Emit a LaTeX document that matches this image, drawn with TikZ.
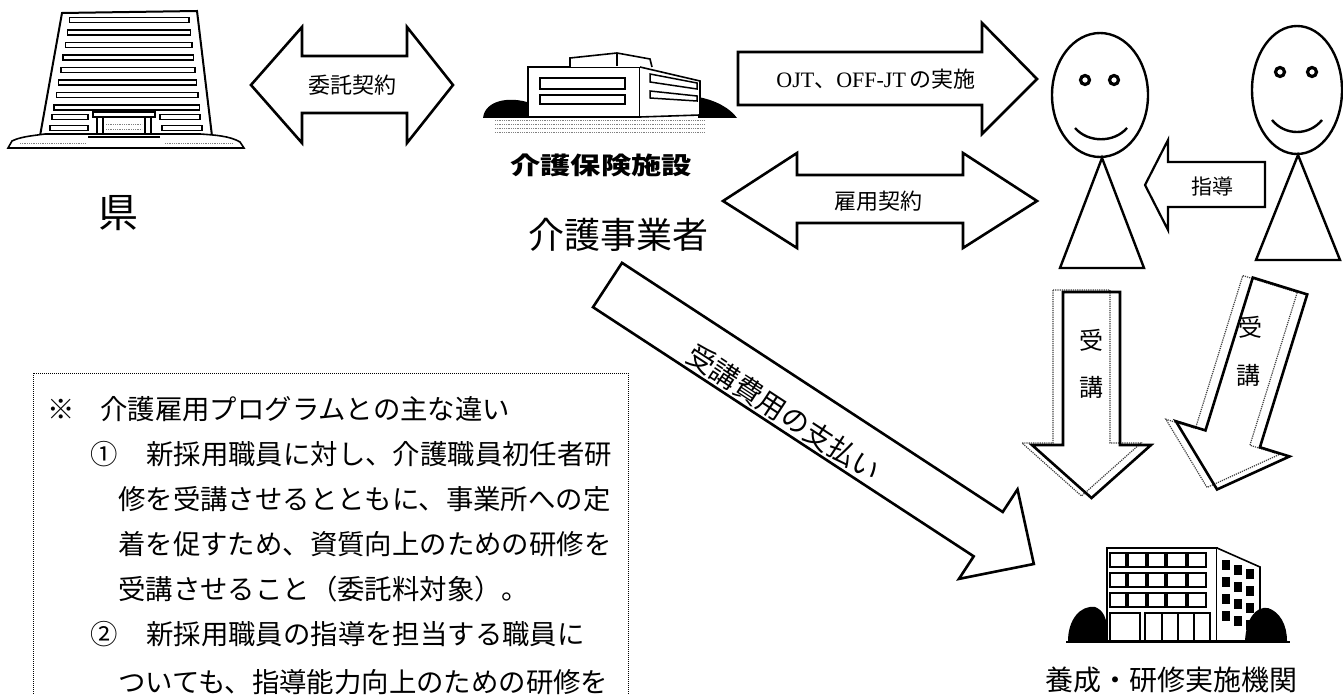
\documentclass[tikz,border=0pt]{standalone}
\usepackage{fontspec}
\newfontfamily\jp{Noto Sans CJK JP}
\newfontfamily\jpwide{Noto Sans CJK JP}[FakeStretch=1.26]
\newfontfamily\lat{Liberation Serif}
\newcommand{\fs}[1]{\fontsize{#1}{#1}\selectfont}
\begin{document}
\begin{tikzpicture}[x=1pt,y=-1pt,
  blockarrow/.style={draw=black, line width=2.6pt, line join=miter, miter limit=20, fill=white},
  rimline/.style={draw=black!75, line width=1.2pt, densely dotted, line join=miter},
  drawline/.style={draw=black, line width=1.6pt},
  face/.style={draw=black, line width=2.4pt},
  eye/.style={draw=black, line width=3.2pt},
  jtext/.style={inner sep=0pt, font=\jp\fs{22}},
  notetext/.style={inner sep=0pt, anchor=west, font=\jp\fs{27.4}},
]
\clip (0,0) rectangle (1343,695);

% ---------- prefectural office building ----------
\draw[line width=2pt, fill=white] (62,13) -- (197,11) -- (212,136) -- (40,136) -- cycle;
\foreach \y in {20,32.5,45,57.5,70,82.5,95,107.5}{
  \pgfmathsetmacro{\xl}{62-22*(\y-13)/123+9}
  \pgfmathsetmacro{\xr}{197+15*(\y-11)/125-9}
  \draw[line width=1.4pt] (\xl,\y-2.6) rectangle (\xr,\y+2.6);
}
\draw[line width=1.4pt] (52,114.5) rectangle (88,119.5);
\draw[line width=1.4pt] (50,125.5) rectangle (88,130.5);
\draw[line width=1.4pt] (160,114.5) rectangle (200,119.5);
\draw[line width=1.4pt] (162,125.5) rectangle (202,130.5);
\draw[line width=1.6pt] (93,112) rectangle (155,117);
\draw[line width=1.4pt] (97,117) rectangle (103,135);
\draw[line width=1.4pt] (145,117) rectangle (151,135);
\draw[line width=0.8pt, black!50, densely dotted] (106,124) -- (142,124) (106,129) -- (142,129);
\draw[line width=1.6pt, fill=white] (8,148) -- (12,141) .. controls (20,137) and (30,136) .. (45,134)
  -- (200,134) .. controls (215,135) and (230,136) .. (240,142) -- (244,148) -- cycle;
\draw[line width=1.4pt] (88,137) -- (160,137);
\draw[line width=0.8pt, black!50, densely dotted] (20,143) -- (85,143) (165,143) -- (232,143);

% ---------- care facility building ----------
\fill (483,118) .. controls (485,100) and (510,96) .. (530,103) -- (530,118) -- cycle;
\fill (698,118) -- (698,97) .. controls (715,100) and (730,108) .. (737,118) -- cycle;
\draw[drawline, fill=white] (528,67) rectangle (640,117);
\draw[drawline, fill=white] (570,67) -- (570,58) -- (617,53) -- (650,59) -- (652,67);
\draw[drawline] (617,53) -- (617,66);
\draw[drawline, fill=white] (640,67) -- (700,81) -- (700,115) -- (640,117);
\draw[line width=1.5pt] (540,78) rectangle (625,89);
\draw[line width=1.5pt] (540,95) rectangle (625,104);
\draw[line width=1.5pt] (650,74) -- (697,83) -- (697,89) -- (650,82) -- cycle;
\draw[line width=1.5pt] (650,91) -- (697,96) -- (697,101) -- (650,98) -- cycle;
\foreach \y in {120,124,128,132}
  \draw[black!50, densely dotted, line width=0.8pt] (495,\y) -- (705,\y);

% ---------- training institute building ----------
\fill (1068,641) .. controls (1068,620) and (1080,605) .. (1095,607) .. controls (1102,610) and (1108,615) .. (1108,641) -- cycle;
\draw[drawline, fill=white] (1107,548) rectangle (1217,641);
\draw[drawline, fill=white] (1217,548) -- (1260,567) -- (1260,641) -- (1217,641);
\foreach \yy in {553,573,593}{
  \foreach \xa/\xb in {1110/1126,1128/1146,1148/1165,1167/1186,1188/1206}
    \draw[line width=1.2pt] (\xa,\yy) rectangle (\xb,\yy+14);
}
\draw[line width=1.2pt] (1110,613) rectangle (1140,641);
\draw[line width=1.2pt] (1145,613) rectangle (1210,641);
\foreach \xx in {1162,1178,1194} \draw[line width=1.2pt] (\xx,613) -- (\xx,641);
\foreach \r in {0,1,2,3}{
  \foreach \c in {0,1,2}
    \fill (1222+12*\c,560+17*\r+4.5*\c) rectangle ++(8,10);
}
\fill (1245,641) .. controls (1246,620) and (1255,606) .. (1268,608) .. controls (1280,612) and (1287,625) .. (1287,641) -- cycle;
\draw[line width=1.5pt] (1066,642) -- (1290,642);

% ---------- people ----------
\draw[face] (1100,95) ellipse [x radius=48, y radius=62];
\draw[eye] (1085,80) circle [radius=4.5];
\draw[eye] (1114,80) circle [radius=4.5];
\draw[face] (1075,128) .. controls (1088,143) and (1114,143) .. (1127,128);
\draw[face, line join=miter] (1102,158) -- (1144,268) -- (1060,268) -- cycle;

\draw[face] (1297,90) ellipse [x radius=45, y radius=64];
\draw[eye] (1280,72) circle [radius=4.5];
\draw[eye] (1312,72) circle [radius=4.5];
\draw[face] (1272,120) .. controls (1285,136) and (1309,136) .. (1322,120);
\draw[face, line join=miter] (1298,155) -- (1340,260) -- (1256,260) -- cycle;

% ---------- block arrows ----------
\draw[blockarrow] (251,85) -- (302,27) -- (302,56) -- (407,56) -- (407,27) -- (453,85)
  -- (407,143) -- (407,113) -- (302,113) -- (302,143) -- cycle;
\draw[blockarrow] (738,52) -- (982,52) -- (982,23) -- (1037,79) -- (982,134) -- (982,105) -- (738,105) -- cycle;
\draw[blockarrow] (723,201) -- (797,153) -- (797,175) -- (963,175) -- (963,153) -- (1037,201)
  -- (963,248) -- (963,223) -- (797,223) -- (797,248) -- cycle;
\draw[blockarrow, line width=2.2pt] (1145,185) -- (1168,140) -- (1168,162) -- (1265,162) -- (1265,207)
  -- (1168,207) -- (1168,230) -- cycle;
\begin{scope}[shift={(607.5,285)}, rotate=-33.2]
  \draw[blockarrow] (0,-26.5) -- (455,-26.5) -- (455,-53.5) -- (509.5,0) -- (455,53.5) -- (455,26.5) -- (0,26.5) -- cycle;
\end{scope}
% course arrows with an offset rim
\begin{scope}[shift={(1081.5,290)}]
  \draw[rimline] (-28.5,0) -- (28.5,0) -- (28.5,153) -- (59.5,153) -- (0,206) -- (-59.5,153) -- (-28.5,153) -- cycle;
\end{scope}
\begin{scope}[shift={(1091.5,292)}]
  \draw[blockarrow, fill=none] (-28.5,0) -- (28.5,0) -- (28.5,153) -- (59.5,153) -- (0,206) -- (-59.5,153) -- (-28.5,153) -- cycle;
\end{scope}
\begin{scope}[shift={(1270,284)}, rotate=-17.2]
  \draw[rimline] (-28.5,0) -- (28.5,0) -- (28.5,160) -- (59.5,160) -- (0,213) -- (-59.5,160) -- (-28.5,160) -- cycle;
\end{scope}
\begin{scope}[shift={(1280,286)}, rotate=-17.2]
  \draw[blockarrow, fill=none] (-28.5,0) -- (28.5,0) -- (28.5,160) -- (59.5,160) -- (0,213) -- (-59.5,160) -- (-28.5,160) -- cycle;
\end{scope}

% ---------- labels ----------
\node[jtext] (itaku) at (352,85) {委託契約};
\node[inner sep=0pt] (ojt) at (876,79) {\lat\fs{22}OJT{\jp 、}OFF-JT\,{\jp の実施}};
\node[jtext] (koyo) at (878,201) {雇用契約};
\node[jtext, font=\jp\fs{21}] (shido) at (1212,186) {指導};
\node[jtext, font=\jp\fs{28}, rotate=-33.2] (pay) at (784,413) {受講費用の支払い};
\node[jtext, font=\jp\fs{24}] (ju1) at (1091,340) {受};
\node[jtext, font=\jp\fs{24}] (ko1) at (1091,387) {講};
\node[jtext, font=\jp\fs{24}] (ju2) at (1250,327) {受};
\node[jtext, font=\jp\fs{24}] (ko2) at (1248,375) {講};

\node[jtext, font=\jp\fs{40}] (ken) at (118,213) {県};
\node[jtext, font=\jpwide\bfseries\fs{24}] (shisetsu) at (601,165) {介護保険施設};
\node[jtext, font=\jp\fs{36}] (jigyo) at (618,235) {介護事業者};
\node[jtext, font=\jp\fs{28}] (yosei) at (1171,680) {養成・研修実施機関};

% ---------- note box ----------
\draw[densely dotted, line width=1pt] (33,373) rectangle (628,760);
\node[notetext] (n0a) at (47,409) {※};
\node[notetext] (n0b) at (100,409) {介護雇用プログラムとの主な違い};
\node[notetext] (n1a) at (90,454) {①};
\node[notetext] (n1b) at (146,454) {新採用職員に対し、介護職員初任者研};
\node[notetext] (n2) at (118,499) {修を受講させるとともに、事業所への定};
\node[notetext] (n3) at (118,544) {着を促すため、資質向上のための研修を};
\node[notetext] (n4) at (118,589) {受講させること（委託料対象）。};
\node[notetext] (n5a) at (90,634) {②};
\node[notetext] (n5b) at (146,634) {新採用職員の指導を担当する職員に};
\node[notetext] (n6) at (118,682) {ついても、指導能力向上のための研修を};
\end{tikzpicture}
\end{document}
